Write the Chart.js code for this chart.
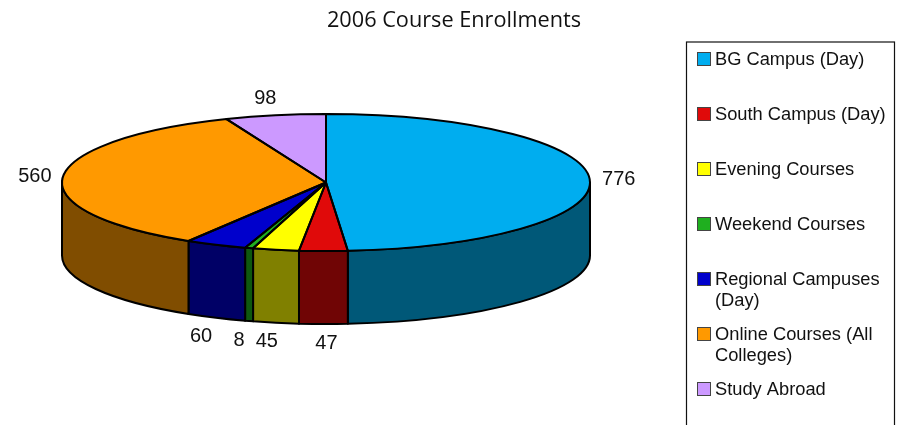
<!DOCTYPE html>
<html>
<head>
<meta charset="utf-8">
<style>html,body{margin:0;padding:0;background:#fff;overflow:hidden}canvas{display:block}</style>
<script src="https://cdn.jsdelivr.net/npm/chart.js@4"></script>
</head>
<body>
<canvas id="c" width="897" height="425"></canvas>
<script>
const chartTitle = "2006 Course Enrollments";
const categories = ["BG Campus (Day)", "South Campus (Day)", "Evening Courses", "Weekend Courses", "Regional Campuses (Day)", "Online Courses (All Colleges)", "Study Abroad"];
const enrollments = [776, 47, 45, 8, 60, 560, 98];
const topColors = ["#00ADEF", "#E00A0A", "#FFFF00", "#1FAF1F", "#0000CC", "#FF9900", "#CC99FF"];
const wallColors = ["#005878", "#700505", "#808000", "#0F580F", "#000066", "#804D00", "#664D80"];
// label offsets from each slice's rim midpoint (layout only)
const labelOffsets = [[29, 0], [3, 92], [-9, 92], [-10, 92], [-15, 92], [-28, 0], [-10, -17]];
const legendRows = [59, 114, 169, 224, 279, 334, 389];

const SX = 264 / 182.5, SY = 68.5 / 182.5, DEPTH = 73;

const pie3d = {
  id: 'pie3d',
  beforeDatasetsDraw(chart) {
    const ctx = chart.ctx;
    const arcs = chart.getDatasetMeta(0).data;
    ctx.save();
    ctx.lineWidth = 2;
    ctx.lineJoin = 'round';
    ctx.strokeStyle = '#000';
    arcs.forEach((el, i) => {
      const rx = el.outerRadius * SX, ry = el.outerRadius * SY;
      const a0 = Math.max(el.startAngle, 0), a1 = Math.min(el.endAngle, Math.PI);
      if (a1 <= a0) return;
      ctx.beginPath();
      ctx.ellipse(el.x, el.y, rx, ry, 0, a0, a1);
      ctx.ellipse(el.x, el.y + DEPTH, rx, ry, 0, a1, a0, true);
      ctx.closePath();
      ctx.fillStyle = wallColors[i];
      ctx.fill();
      ctx.stroke();
    });
    ctx.restore();
    // squash the flat pie into the perspective ellipse
    const a = arcs[0];
    ctx.save();
    ctx.translate(a.x, a.y);
    ctx.scale(SX, SY);
    ctx.translate(-a.x, -a.y);
  },
  afterDatasetsDraw(chart) {
    const ctx = chart.ctx;
    ctx.restore();
    const arcs = chart.getDatasetMeta(0).data;
    ctx.save();
    ctx.lineWidth = 2;
    ctx.lineJoin = 'round';
    ctx.strokeStyle = '#000';
    arcs.forEach(el => {
      const rx = el.outerRadius * SX, ry = el.outerRadius * SY;
      ctx.beginPath();
      ctx.moveTo(el.x, el.y);
      ctx.ellipse(el.x, el.y, rx, ry, 0, el.startAngle, el.endAngle);
      ctx.closePath();
      ctx.stroke();
    });
    // value labels
    ctx.fillStyle = '#111';
    ctx.font = '20px "Liberation Sans", Arial, sans-serif';
    ctx.textAlign = 'center';
    ctx.textBaseline = 'middle';
    arcs.forEach((el, i) => {
      const mid = (el.startAngle + el.endAngle) / 2;
      const px = el.x + el.outerRadius * SX * Math.cos(mid);
      const py = el.y + el.outerRadius * SY * Math.sin(mid);
      ctx.fillText(String(enrollments[i]), px + labelOffsets[i][0], py + labelOffsets[i][1]);
    });
    ctx.restore();
  },
  afterDraw(chart) {
    const ctx = chart.ctx;
    ctx.save();
    // title
    ctx.fillStyle = '#111';
    ctx.font = '21.7px "Open Sans", "Noto Sans", sans-serif';
    ctx.textAlign = 'center';
    ctx.textBaseline = 'middle';
    ctx.fillText(chartTitle, 454, 21);
    // legend frame, runs off the bottom of the picture
    ctx.strokeStyle = '#111';
    ctx.lineWidth = 1.2;
    ctx.strokeRect(686.5, 42, 208, 400);
    // legend rows
    ctx.font = '18.3px "Liberation Sans", Arial, sans-serif';
    ctx.textAlign = 'left';
    categories.forEach((name, i) => {
      const y = legendRows[i];
      ctx.fillStyle = topColors[i];
      ctx.fillRect(697.5, y - 6.5, 13, 13);
      ctx.strokeStyle = '#444';
      ctx.lineWidth = 1;
      ctx.strokeRect(697.5, y - 6.5, 13, 13);
      ctx.fillStyle = '#111';
      const lines = [];
      let line = '';
      name.split(' ').forEach(word => {
        const t = line ? line + ' ' + word : word;
        if (ctx.measureText(t).width > 175 && line) { lines.push(line); line = word; }
        else line = t;
      });
      lines.push(line);
      lines.forEach((l, k) => ctx.fillText(l, 715, y + 1 + k * 21));
    });
    ctx.restore();
  }
};

new Chart(document.getElementById('c'), {
  type: 'pie',
  data: {
    labels: categories,
    datasets: [{ data: enrollments, backgroundColor: topColors, borderWidth: 0 }]
  },
  options: {
    responsive: false,
    animation: false,
    layout: { padding: { left: 0, right: 245, top: 0, bottom: 60 } },
    plugins: { legend: { display: false }, title: { display: false }, tooltip: { enabled: false } }
  },
  plugins: [pie3d]
});
</script>
</body>
</html>
